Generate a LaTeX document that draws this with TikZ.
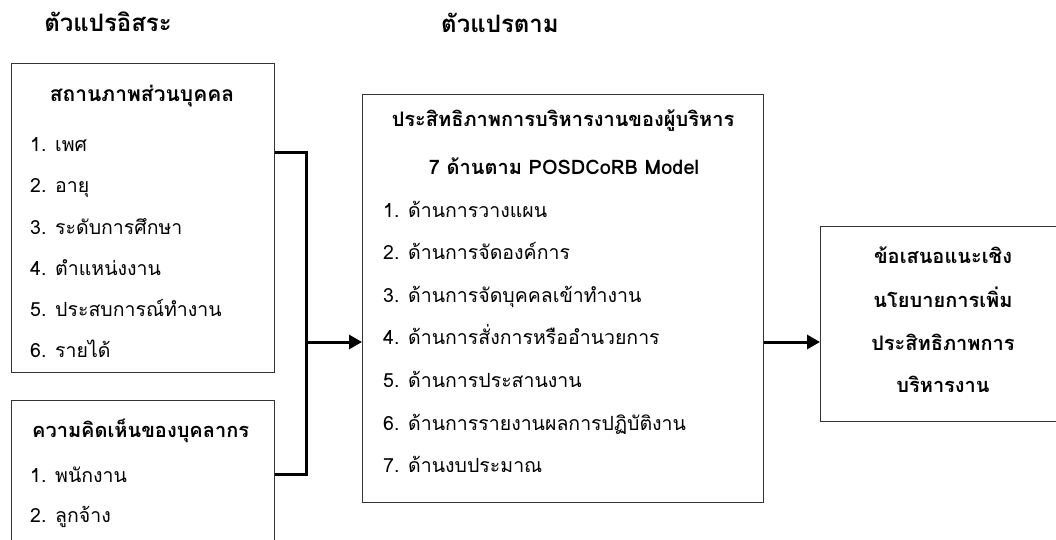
\documentclass[tikz,border=0pt]{standalone}
\usepackage{fontspec}
\newfontfamily\thaifont[Script=Thai]{Loma}
\usetikzlibrary{positioning,arrows.meta}

\tikzset{
  box/.style={draw=black!80, line width=1pt, anchor=north west, inner sep=0pt},
  head/.style={font=\thaifont\bfseries\fontsize{20}{24}\selectfont, inner sep=0pt, anchor=base},
  top/.style={head, font=\thaifont\bfseries\fontsize{24}{28}\selectfont},
  item/.style={font=\thaifont\fontsize{19.5}{24}\selectfont, inner sep=0pt, anchor=base west},
  link/.style={line width=3pt, black},
}

\begin{document}
\begin{tikzpicture}[x=1pt,y=-1pt]
  \clip (0,0) rectangle (1056,540);
  % headings
  \node[top] (hind) at (108,32) {ตัวแปรอิสระ};
  \node[top] (hdep) at (500,33) {ตัวแปรตาม};

  % boxes
  \node[box, minimum width=263pt, minimum height=309pt] (pers) at (11,63) {};
  \node[box, minimum width=263pt, minimum height=160pt] (opin) at (11,400) {};
  \node[box, minimum width=401pt, minimum height=408pt] (eff) at (362,94) {};
  \node[box, minimum width=246pt, minimum height=195pt] (sugg) at (820,226) {};

  % personal status
  \node[head, font=\thaifont\bfseries\fontsize{21}{25}\selectfont] (pers0) at (142,102) {สถานภาพส่วนบุคคล};
  \foreach \t [count=\i] in {เพศ, อายุ, ระดับการศึกษา, ตำแหน่งงาน, ประสบการณ์ทำงาน, รายได้}
    \node[item] (pers\i) at (30,{152+41*(\i-1)}) {\i. \t};

  % opinion
  \node[head, anchor=base west] (opin0) at (32,437) {ความคิดเห็นของบุคลากร};
  \node[item] (opin1) at (30,482) {1. พนักงาน};
  \node[item] (opin2) at (30,522) {2. ลูกจ้าง};

  % efficiency
  \node[head] (eff0) at (563,127) {ประสิทธิภาพการบริหารงานของผู้บริหาร};
  \node[head] (eff00) at (564,175) {7 ด้านตาม POSDCoRB Model};
  \foreach \t [count=\i] in {ด้านการวางแผน, ด้านการจัดองค์การ, ด้านการจัดบุคคลเข้าทำงาน,
      ด้านการสั่งการหรืออำนวยการ, ด้านการประสานงาน, ด้านการรายงานผลการปฏิบัติงาน, ด้านงบประมาณ}
    \node[item] (eff\i) at (383,{217+42.6*(\i-1)}) {\i. \t};

  % suggestion
  \node[head] (sugg1) at (943,263) {ข้อเสนอแนะเชิง};
  \node[head] (sugg2) at (943,307) {นโยบายการเพิ่ม};
  \node[head] (sugg3) at (943,350) {ประสิทธิภาพการ};
  \node[head] (sugg4) at (943,392) {บริหารงาน};

  % connectors
  \coordinate (jtop) at (306,153);
  \coordinate (jbot) at (306,474);
  \coordinate (jmid) at (306,342);
  \draw[link] (pers.east |- jtop) -- (jtop) -- (jbot) -- (opin.east |- jbot);
  \draw[link, -{Triangle[length=13pt,width=14pt]}] (jmid) -- (eff.west |- jmid);
  \draw[link, -{Triangle[length=13pt,width=14pt]}] (eff.east |- jmid) -- (sugg.west |- jmid);
\end{tikzpicture}
\end{document}
